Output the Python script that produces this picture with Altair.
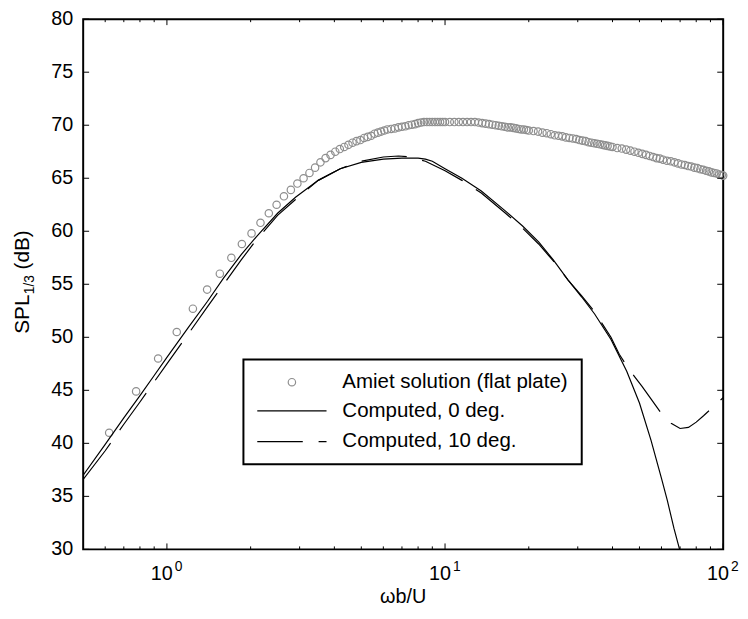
import altair as alt
import pandas as pd

# ---------------- data ----------------
amiet_x = [0.62, 0.775, 0.93, 1.085, 1.24, 1.395, 1.55, 1.705, 1.86, 2.015, 2.17, 2.325,
           2.48, 2.635, 2.79, 2.945, 3.1, 3.255, 3.41, 3.565, 3.72, 3.875, 4.03, 4.185,
           4.34, 4.495, 4.65, 4.805, 4.96, 5.115, 5.27, 5.425, 5.58, 5.735, 5.89, 6.045, 6.2,
           6.4, 6.6, 6.8, 7.0, 7.2, 7.4, 7.6, 7.8, 8.0, 8.2, 8.4, 8.6, 8.8, 9.0, 9.2, 9.4,
           9.6, 9.8, 10.0,
           10.4, 10.8, 11.2, 11.6, 12.0, 12.4, 12.8, 13.2, 13.6, 14.0, 14.4, 14.8, 15.2,
           15.6, 16.0, 16.4, 16.8, 17.2, 17.6, 18.0, 18.4, 18.8, 19.2, 19.6, 20.0,
           20.8, 21.6, 22.4, 23.2, 24.0, 24.8, 25.6, 26.4, 27.2, 28.0, 28.8, 29.6, 30.4,
           31.2, 32.0, 32.8, 33.6, 34.4, 35.2, 36.0, 36.8, 37.6, 38.4, 39.2, 40.0,
           41.6, 43.2, 44.8, 46.4, 48.0, 49.6, 51.2, 52.8, 54.4, 56.0, 57.6, 59.2, 60.8,
           62.8, 64.8, 66.8, 68.8, 70.8, 72.8, 74.8, 76.8, 78.8, 80.8, 82.8, 84.8, 86.8,
           88.8, 90.8, 92.8, 94.8, 96.8, 98.8, 100.0]
amiet_db = [41.0, 44.9, 48.0, 50.5, 52.7, 54.5, 56.0, 57.5, 58.8, 59.8, 60.8, 61.7,
            62.5, 63.3, 63.9, 64.5, 65.0, 65.5, 66.0, 66.5, 66.9, 67.2, 67.5, 67.75,
            67.95, 68.15, 68.35, 68.5, 68.6, 68.8, 68.9, 69.0, 69.2, 69.3, 69.4, 69.5, 69.6,
            69.65, 69.7, 69.8, 69.85, 69.9, 70.0, 70.05, 70.1, 70.2, 70.25, 70.3, 70.3, 70.3,
            70.3, 70.3, 70.3, 70.3, 70.3, 70.3,
            70.3, 70.3, 70.3, 70.3, 70.3, 70.3, 70.3, 70.25, 70.2, 70.15, 70.1, 70.05, 70.0,
            69.95, 69.9, 69.85, 69.8, 69.8, 69.75, 69.7, 69.65, 69.6, 69.6, 69.55, 69.5,
            69.45, 69.4, 69.3, 69.25, 69.15, 69.05, 69.0, 68.95, 68.85, 68.8, 68.75, 68.7,
            68.6, 68.55, 68.5, 68.4, 68.35, 68.3, 68.25, 68.2, 68.15, 68.1, 68.05, 68.0, 67.95,
            67.85, 67.8, 67.7, 67.6, 67.5, 67.4, 67.3, 67.2, 67.1, 67.0, 66.9, 66.85, 66.75,
            66.65, 66.6, 66.5, 66.4, 66.3, 66.25, 66.15, 66.1, 66.0, 65.95, 65.85, 65.8, 65.7,
            65.65, 65.55, 65.5, 65.45, 65.35, 65.3, 65.25]

comp0_x = [0.5, 0.6, 0.7, 0.8, 0.9, 1.0, 1.2, 1.4, 1.6, 1.85, 2.1, 2.5, 2.9, 3.5, 4.2,
           5.0, 6.0, 7.0, 8.0, 8.5, 9.0, 10.0, 11.5, 13.5, 16.5, 19.0, 21.7, 24.5, 27.7,
           31.0, 34.5, 39.5, 45.0, 50.0, 55.0, 60.0, 63.0, 66.5, 69.7, 71.0]
comp0_db = [37.0, 39.9, 42.4, 44.5, 46.4, 48.1, 51.0, 53.4, 55.6, 57.8, 59.5, 61.7, 63.2,
            64.8, 65.9, 66.5, 66.8, 66.9, 66.9, 66.8, 66.6, 65.9, 65.0, 63.8, 61.9, 60.5,
            59.0, 57.3, 55.4, 53.8, 52.2, 49.8, 46.8, 43.8, 40.3, 36.7, 34.6, 32.0, 30.0, 29.0]

comp10_x = [0.5, 0.6, 0.7, 0.8, 0.9, 1.0, 1.2, 1.4, 1.6, 1.85, 2.1, 2.5, 2.9, 3.5, 4.2,
            5.0, 6.0, 6.8, 7.5, 8.5, 10.0, 11.5, 13.5, 16.5, 19.0, 21.7, 24.5, 27.7, 31.0,
            34.5, 39.5, 42.3, 45.0, 48.0, 51.0, 55.0, 60.0, 65.0, 70.0, 75.0, 80.0, 85.0,
            90.0, 95.0, 100.0]
comp10_db = [36.6, 39.3, 41.8, 43.9, 45.8, 47.5, 50.4, 52.9, 55.0, 57.3, 59.2, 61.5, 63.0,
             64.8, 65.9, 66.6, 67.0, 67.1, 67.0, 66.6, 65.7, 64.8, 63.6, 61.7, 60.3, 58.8,
             57.2, 55.4, 53.9, 52.4, 50.0, 48.4, 47.3, 46.3, 45.4, 44.2, 42.8, 41.9, 41.4,
             41.5, 42.0, 42.6, 43.2, 43.8, 44.3]

x_major = [1, 10, 100]
x_exp = ["0", "1", "2"]
x_minor = [0.6, 0.7, 0.8, 0.9, 2, 3, 4, 5, 6, 7, 8, 9, 20, 30, 40, 50, 60, 70, 80, 90]
y_ticks = [30, 35, 40, 45, 50, 55, 60, 65, 70, 75, 80]
legend_labels = ["Amiet solution (flat plate)", "Computed, 0 deg.", "Computed, 10 deg."]

# ---------------- chart ----------------
W, H = 647, 536
FONT = "Liberation Sans"
GRAY = "#8e8e8e"
DASH = [46, 16]

xs = alt.Scale(type="log", domain=[0.5, 100], nice=False)
ys = alt.Scale(domain=[30, 80], nice=False, zero=False)
one = pd.DataFrame({"a": [0]})

amiet = alt.Chart(pd.DataFrame({"x": amiet_x, "db": amiet_db})).mark_point(
    shape="circle", filled=False, size=56, color=GRAY, strokeWidth=1.2, opacity=1
).encode(
    x=alt.X("x:Q", scale=xs, axis=None),
    y=alt.Y("db:Q", scale=ys, axis=None),
)

line0 = alt.Chart(pd.DataFrame({"x": comp0_x, "db": comp0_db})).mark_line(
    color="black", strokeWidth=1.2, clip=True
).encode(x=alt.X("x:Q", scale=xs, axis=None), y=alt.Y("db:Q", scale=ys, axis=None))

line10 = alt.Chart(pd.DataFrame({"x": comp10_x, "db": comp10_db})).mark_line(
    color="black", strokeWidth=1.2, strokeDash=DASH, clip=True
).encode(x=alt.X("x:Q", scale=xs, axis=None), y=alt.Y("db:Q", scale=ys, axis=None))

# inward ticks on all four sides
def xticks(vals, length):
    d = pd.DataFrame({"v": vals})
    bot = alt.Chart(d).mark_rule(color="black", strokeWidth=1).encode(
        x=alt.X("v:Q", scale=xs, axis=None), y=alt.value(H), y2=alt.value(H - length))
    top = alt.Chart(d).mark_rule(color="black", strokeWidth=1).encode(
        x=alt.X("v:Q", scale=xs, axis=None), y=alt.value(0), y2=alt.value(length))
    return [bot, top]

dy = pd.DataFrame({"v": y_ticks})
yleft = alt.Chart(dy).mark_rule(color="black", strokeWidth=1).encode(
    y=alt.Y("v:Q", scale=ys, axis=None), x=alt.value(0), x2=alt.value(6))
yright = alt.Chart(dy).mark_rule(color="black", strokeWidth=1).encode(
    y=alt.Y("v:Q", scale=ys, axis=None), x=alt.value(W), x2=alt.value(W - 6))
ylab = alt.Chart(dy).mark_text(align="right", baseline="middle", fontSize=20,
                               color="black").encode(
    y=alt.Y("v:Q", scale=ys, axis=None), x=alt.value(-10), text="v:Q")

# x tick labels 10^n
dl = pd.DataFrame({"v": x_major, "base": ["10"] * len(x_major), "e": x_exp})
xlab = alt.Chart(dl).mark_text(align="right", baseline="alphabetic", dx=6, fontSize=20,
                               color="black").encode(
    x=alt.X("v:Q", scale=xs, axis=None), y=alt.value(567), text="base:N")
xexp = alt.Chart(dl).mark_text(align="left", baseline="alphabetic", dx=8, fontSize=14,
                               color="black").encode(
    x=alt.X("v:Q", scale=xs, axis=None), y=alt.value(558), text="e:N")

# axis titles
xtitle = alt.Chart(one).mark_text(text="ωb/U", align="center", baseline="alphabetic",
                                  fontSize=20, color="black").encode(
    x=alt.value(W / 2), y=alt.value(590))
yt1 = alt.Chart(one).mark_text(text="SPL", angle=270, align="left", baseline="alphabetic",
                               fontSize=21, color="black").encode(
    x=alt.value(-55), y=alt.value(318))
yt2 = alt.Chart(one).mark_text(text="1/3", angle=270, align="left", baseline="alphabetic",
                               fontSize=14, color="black").encode(
    x=alt.value(-50), y=alt.value(278))
yt3 = alt.Chart(one).mark_text(text="(dB)", angle=270, align="left", baseline="alphabetic",
                               fontSize=21, color="black").encode(
    x=alt.value(-55), y=alt.value(253))

# legend
lbox = alt.Chart(one).mark_rect(fill="white", stroke="black", strokeWidth=2).encode(
    x=alt.value(162), x2=alt.value(504), y=alt.value(344), y2=alt.value(450))
lcirc = alt.Chart(one).mark_point(shape="circle", filled=False, size=56, color=GRAY,
                                  strokeWidth=1.2, opacity=1).encode(
    x=alt.value(211), y=alt.value(367))
lsolid = alt.Chart(one).mark_rule(color="black", strokeWidth=1.2).encode(
    x=alt.value(176), x2=alt.value(246), y=alt.value(396))
ldash = alt.Chart(one).mark_rule(color="black", strokeWidth=1.2, strokeDash=DASH).encode(
    x=alt.value(176), x2=alt.value(246), y=alt.value(427))
ltexts = [
    alt.Chart(one).mark_text(text=t, align="left", baseline="middle", fontSize=20.7,
                             color="black").encode(x=alt.value(262), y=alt.value(yy))
    for t, yy in zip(legend_labels, [367, 396, 426])
]

layers = [amiet, line0, line10] + xticks(x_major, 6) + xticks(x_minor, 3) + \
    [yleft, yright, ylab, xlab, xexp, xtitle, yt1, yt2, yt3, lbox, lcirc, lsolid, ldash] + ltexts

chart = alt.layer(*layers).properties(
    width=W, height=H,
    padding={"left": 76, "top": 8, "right": 17, "bottom": 60},
    autosize=alt.AutoSizeParams(type="none"),
).configure_view(stroke="black", strokeWidth=2).configure_text(font=FONT)

chart.save("out.html", embed_options={"renderer": "svg", "actions": False})
